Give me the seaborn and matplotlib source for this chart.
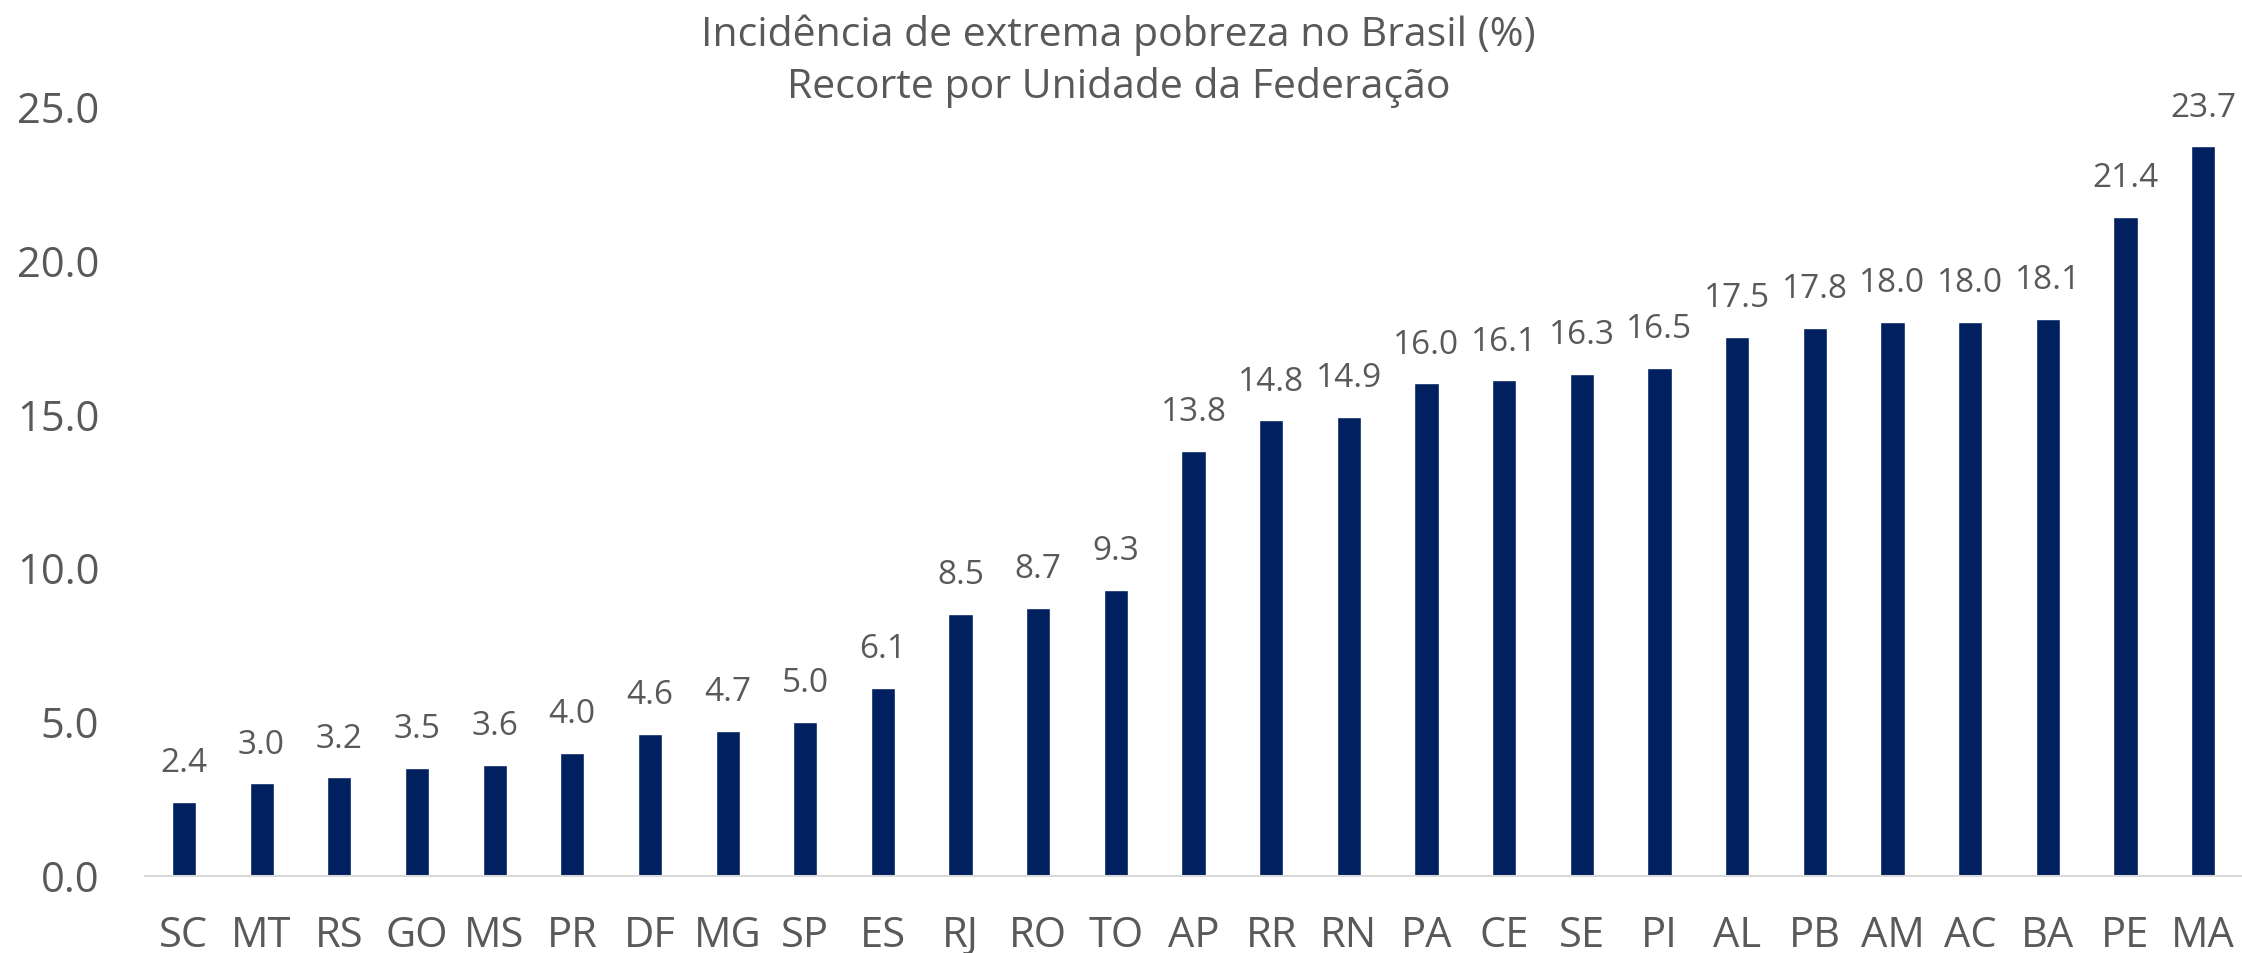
import matplotlib
matplotlib.use("Agg")
import matplotlib.pyplot as plt
import seaborn as sns
import pandas as pd

# Extreme poverty incidence by state (%)
states = ["SC", "MT", "RS", "GO", "MS", "PR", "DF", "MG", "SP", "ES",
          "RJ", "RO", "TO", "AP", "RR", "RN", "PA", "CE", "SE", "PI",
          "AL", "PB", "AM", "AC", "BA", "PE", "MA"]
values = [2.4, 3.0, 3.2, 3.5, 3.6, 4.0, 4.6, 4.7, 5.0, 6.1,
          8.5, 8.7, 9.3, 13.8, 14.8, 14.9, 16.0, 16.1, 16.3, 16.5,
          17.5, 17.8, 18.0, 18.0, 18.1, 21.4, 23.7]
y_ticks = [0, 5, 10, 15, 20, 25]

title_lines = ["Incidência de extrema pobreza no Brasil (%)",
               "Recorte por Unidade da Federação"]

df = pd.DataFrame({"UF": states, "Pobreza": values})

sns.set_style("white")
plt.rcParams["font.family"] = ["Open Sans", "DejaVu Sans"]

text_color = "#595959"
bar_color = "#002060"

fig = plt.figure(figsize=(22.42, 9.535), dpi=100)
ax = fig.add_axes([0.0647, 0.081, 0.9353, 0.807])

sns.barplot(data=df, x="UF", y="Pobreza", color=bar_color, width=0.31,
            saturation=1, ax=ax)

for i, v in enumerate(values):
    ax.annotate(f"{v:.1f}", xy=(i, v), xytext=(0, 16), textcoords="offset points",
                ha="center", va="bottom", fontsize=24, color=text_color)

ax.set_ylim(0, 25)
ax.set_xlim(-0.5, len(states) - 0.5)
ax.set_yticks(y_ticks)
ax.set_yticklabels([f"{t:.1f}" for t in y_ticks])
ax.set_xlabel("")
ax.set_ylabel("")
ax.tick_params(axis="both", length=0, labelcolor=text_color)
ax.tick_params(axis="y", pad=33, labelsize=30)
ax.tick_params(axis="x", pad=28, labelsize=30)

for side in ["top", "right", "left"]:
    ax.spines[side].set_visible(False)
ax.spines["bottom"].set_color("#D9D9D9")
ax.spines["bottom"].set_linewidth(1.5)

fig.text(0.499, 1 - 46 / 953, title_lines[0], ha="center", va="baseline",
         fontsize=29.5, color=text_color)
fig.text(0.499, 1 - 98 / 953, title_lines[1], ha="center", va="baseline",
         fontsize=29.5, color=text_color)

fig.savefig("out.png", dpi=100)
